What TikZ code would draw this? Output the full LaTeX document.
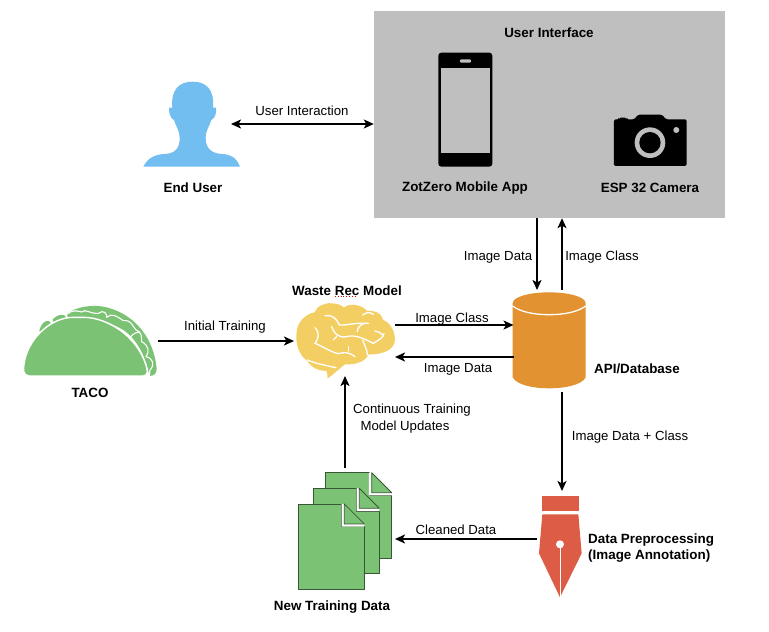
\documentclass[tikz,border=0pt]{standalone}
\usepackage{fontspec}
\setmainfont{Liberation Sans}
\usetikzlibrary{arrows.meta}
\definecolor{uigray}{HTML}{BFBFBF}
\definecolor{userblue}{HTML}{73BEF0}
\definecolor{tacogreen}{HTML}{7CC274}
\definecolor{brainyellow}{HTML}{F2CE63}
\definecolor{dborange}{HTML}{E29230}
\definecolor{penred}{HTML}{DC5C45}
\tikzset{
  x=1pt,y=-1pt,
  lab/.style={font=\fontsize{13.2}{16}\selectfont,inner sep=0pt,anchor=center},
  blab/.style={font=\fontsize{13.4}{16}\selectfont\bfseries,inner sep=0pt,anchor=center},
  holder/.style={inner sep=0pt,outer sep=0pt,minimum width=#1},
  flow/.style={line width=1.6pt,-{Stealth[length=10pt,width=9pt,inset=2.5pt]}},
  flowboth/.style={line width=1.6pt,{Stealth[length=10pt,width=9pt,inset=2.5pt]}-{Stealth[length=10pt,width=9pt,inset=2.5pt]}},
  sheet/.style={fill=tacogreen,draw=black!55!tacogreen,line width=.8pt,line join=round},
  zoomed/.style={x=.3333pt,y=-.3333pt},
}
\begin{document}
\begin{tikzpicture}
\useasboundingbox (0,0) rectangle (769,632);
\fill[white] (0,0) rectangle (769,632);

% anchors of the diagram
\node[fill=uigray,inner sep=0pt,minimum width=351pt,minimum height=207pt] (ui) at (549.5,114.5) {};
\node[holder=72pt,minimum height=102pt] (db) at (549.5,341) {};
\node[holder=62pt,minimum height=0pt] (user) at (200,124) {};
\node[holder=101pt,minimum height=70pt] (brain) at (344.5,341) {};
\node[holder=100pt,minimum height=70pt] (taco) at (108,341) {};
\node[holder=100pt,minimum height=120pt] (files) at (345,528) {};
\node[holder=50pt,minimum height=96pt] (pen) at (562,539) {};

% End user
\begin{scope}[shift={(130,60)},zoomed]
\fill[userblue] (40,320) .. controls (55,290) and (80,283) .. (105,282) .. controls (135,280) and (150,265) .. (149,232)
 .. controls (149,212) and (138,200) .. (132,180) .. controls (118,175) and (116,150) .. (118,143) -- (127,143)
 .. controls (122,88) and (148,65) .. (188,65) .. controls (228,65) and (254,88) .. (249,143) -- (258,143)
 .. controls (260,150) and (258,175) .. (244,180) .. controls (238,200) and (227,212) .. (227,232)
 .. controls (226,265) and (245,280) .. (275,282) .. controls (300,283) and (318,290) .. (330,320) -- cycle;
\end{scope}

% Phone
\begin{scope}[shift={(400,30)},zoomed]
\fill[black,rounded corners=3pt] (115,68) rectangle (277,410);
\fill[uigray] (124,113) rectangle (270,368);
\fill[uigray,rounded corners=1pt] (180,88) rectangle (213,98);
\end{scope}

% Camera
\begin{scope}[shift={(400,30)},zoomed]
\fill[black,rounded corners=1.5pt] (642,408) -- (642,268) -- (657,268) -- (657,263) -- (680,263) -- (680,268) -- (703,268) -- (714,254) -- (786,254) -- (798,268) -- (860,268) -- (860,408) -- cycle;
\fill[uigray] (750,338) circle[radius=46];
\fill[black] (750,338) circle[radius=32];
\fill[uigray] (829,300) circle[radius=9];
\end{scope}

% Taco
\begin{scope}[shift={(10,290)},zoomed]
\fill[tacogreen] (88,122) .. controls (92,105) and (102,92) .. (115,92) -- (122,98) -- (120,106) .. controls (105,110) and (97,118) .. (92,128) -- cycle;
\fill[tacogreen] (128,88) .. controls (140,76) and (155,70) .. (167,78) -- (165,88) .. controls (152,90) and (140,94) .. (130,99) -- cycle;
\fill[tacogreen] (172,70) .. controls (200,50) and (250,42) .. (290,52) .. controls (380,75) and (432,150) .. (440,235)
 .. controls (441,250) and (432,258) .. (418,258) .. controls (410,210) and (385,150) .. (340,120) .. controls (290,90) and (220,75) .. (172,84) -- cycle;
\draw[white,line width=1.1pt,line join=round] (172,72) .. controls (185,62) and (195,60) .. (215,66) .. controls (225,55) and (240,72) .. (265,70) .. controls (280,58) and (292,70) .. (290,82)
 .. controls (305,68) and (320,78) .. (340,92) .. controls (365,90) and (365,105) .. (378,120) .. controls (395,125) and (395,140) .. (395,155) .. controls (415,165) and (420,185) .. (408,200) .. controls (430,205) and (435,225) .. (420,240) -- (418,258);
\draw[white,line width=1.1pt] (358,145) .. controls (370,130) and (380,125) .. (390,128);
\fill[tacogreen,draw=white,line width=1.4pt,rounded corners=5pt] (42,258) -- (40,240) .. controls (50,150) and (120,82) .. (205,82) .. controls (300,82) and (395,150) .. (415,258) -- cycle;
\end{scope}

% Brain
\begin{scope}[shift={(280,275)},zoomed]
\fill[brainyellow] (82,258) .. controls (55,240) and (45,200) .. (50,170) .. controls (52,140) and (80,115) .. (104,112)
 .. controls (108,95) and (135,82) .. (155,85) .. controls (170,85) and (185,90) .. (192,98) .. controls (205,85) and (240,85) .. (262,108)
 .. controls (285,105) and (305,115) .. (310,135) .. controls (335,145) and (350,180) .. (343,205) .. controls (335,230) and (295,240) .. (265,238)
 .. controls (260,255) and (235,270) .. (195,268) .. controls (185,275) and (175,285) .. (168,290) .. controls (160,298) and (150,305) .. (143,310)
 .. controls (143,300) and (141,295) .. (140,288) .. controls (120,288) and (95,280) .. (82,258) -- cycle;
\begin{scope}[white,line width=1.3pt,line cap=round]
\draw (105,158) .. controls (120,175) and (116,190) .. (105,205) .. controls (130,215) and (150,230) .. (175,236) .. controls (195,232) and (205,230) .. (225,245);
\draw (205,215) -- (205,228);
\draw (82,255) .. controls (105,265) and (140,272) .. (168,278);
\draw (135,122) .. controls (155,118) and (170,130) .. (178,150) .. controls (200,152) and (225,142) .. (265,145);
\draw (232,170) .. controls (232,158) and (240,150) .. (252,146);
\draw (155,155) .. controls (162,175) and (175,190) .. (200,185) .. controls (225,178) and (250,190) .. (280,205) .. controls (295,195) and (310,190) .. (312,175);
\draw (285,168) .. controls (295,170) and (302,172) .. (308,180);
\draw (248,120) .. controls (258,112) and (270,110) .. (280,118);
\draw (170,185) -- (160,195);
\draw (248,195) .. controls (255,215) and (262,225) .. (262,240);
\end{scope}
\end{scope}

% Database
\begin{scope}[shift={(500,280)},zoomed]
\fill[dborange] (38,70) -- (38,292) .. controls (50,315) and (100,325) .. (147,325) .. controls (195,325) and (245,315) .. (257,292) -- (257,70) -- cycle;
\draw[white,line width=1.3pt] (38,78) .. controls (60,95) and (100,104) .. (147,104) .. controls (195,104) and (235,95) .. (257,78);
\fill[dborange] (147,37) .. controls (205,37) and (257,50) .. (257,70) .. controls (245,85) and (205,97) .. (147,97) .. controls (90,97) and (50,85) .. (38,70) .. controls (38,50) and (90,37) .. (147,37) -- cycle;
\end{scope}

% Pen
\begin{scope}[shift={(520,480)},zoomed]
\fill[penred] (65,47) rectangle (177,92);
\fill[penred] (67,103) -- (175,103) -- (185,220) -- (120,352) -- (57,220) -- cycle;
\draw[white,line width=1pt] (120,193) -- (120,352);
\fill[white] (120,193) circle[radius=12];
\end{scope}

% Files
\begin{scope}[shift={(280,460)},zoomed]
\foreach \dx/\dy in {82/-94, 45/-47, 0/0}{
\begin{scope}[shift={(\dx,\dy)}]
\draw[sheet] (55,132) -- (185,132) -- (185,200) -- (253,200) -- (253,388) -- (55,388) -- cycle;
\fill[white] (185,132) -- (193,132) -- (253,192) -- (253,200) -- (185,200) -- cycle;
\draw[sheet] (193,132) -- (193,192) -- (253,192) -- cycle;
\end{scope}
}
\end{scope}

% Connectors
\draw[flowboth] (user.east) -- (ui.west |- user.east);
\draw[flow] ([xshift=-12.5pt]ui.south) -- ([xshift=-12.5pt]db.north);
\draw[flow] ([xshift=12.5pt]db.north) -- ([xshift=12.5pt]ui.south);
\draw[flow] (taco.east) -- (brain.west);
\draw[flow] ([yshift=16pt]brain.east) -- ([yshift=16pt]db.west);
\draw[flow] ([yshift=-16pt]db.west) -- ([yshift=-16pt]brain.east);
\draw[flow] (files.north) -- (files.north |- brain.south);
\draw[flow] (db.south -| pen.north) -- (pen.north);
\draw[flow] (pen.west) -- (files.east |- pen.west);

% Labels
\node[blab] (tUI) at (549,33) {User Interface};
\node[blab] (tUser) at (193,188) {End User};
\node[blab] (tApp) at (465,188) {ZotZero Mobile App};
\node[blab] (tCam) at (650,188) {ESP 32 Camera};
\node[lab] (tInter) at (302,111) {User Interaction};
\node[lab] (tDown) at (498,257) {Image Data};
\node[lab] (tUp) at (602,257) {Image Class};
\node[blab] (tBrain) at (347,291) {Waste Rec Model};
\draw[red!85!black,line width=.8pt,dotted] (335,296.5) -- (357,296.5);
\node[lab] (tInit) at (225,327) {Initial Training};
\node[lab] (tCls) at (452,319) {Image Class};
\node[lab] (tImg) at (458,369) {Image Data};
\node[blab] (tDb) at (637,369) {API/Database};
\node[lab] (tCont) at (412,410) {Continuous Training};
\node[lab] (tUpd) at (405,427) {Model Updates};
\node[lab] (tBoth) at (630,437) {Image Data + Class};
\node[lab] (tClean) at (456,530) {Cleaned Data};
\node[blab,align=left,anchor=west] (tPre) at (588,548) {Data Preprocessing\\(Image Annotation)};
\node[blab] (tNew) at (332,607) {New Training Data};
\node[blab] (tTaco) at (90,393) {TACO};
\end{tikzpicture}
\end{document}
